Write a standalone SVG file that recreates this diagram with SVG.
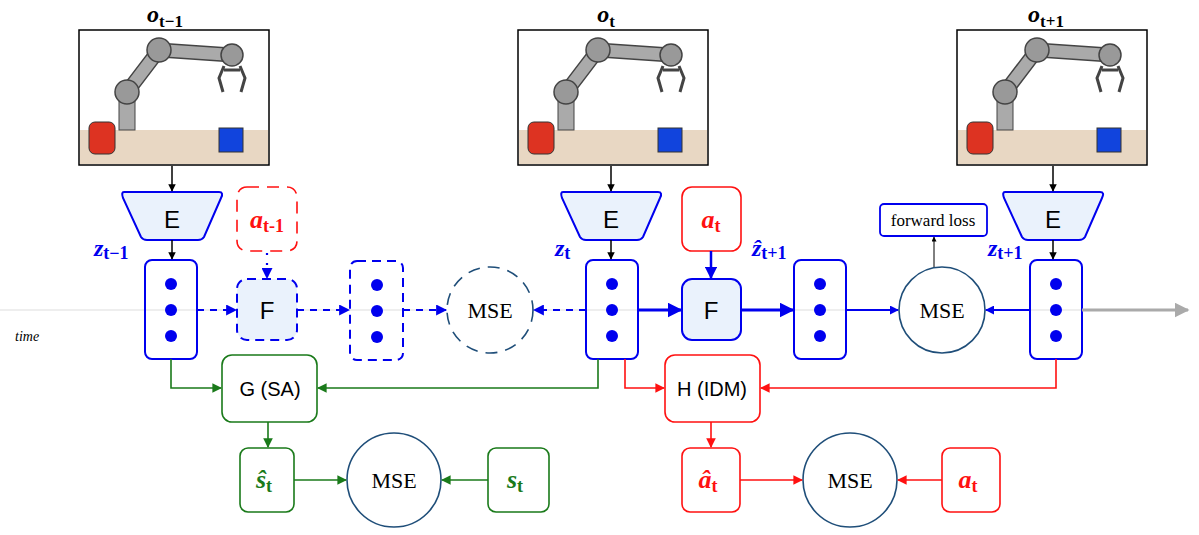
<svg xmlns="http://www.w3.org/2000/svg" width="1199" height="535" viewBox="0 0 1199 535">
<defs>
<style>
.bl{fill:none;stroke:#0000ee;stroke-width:2}
.dash{stroke-dasharray:9,6}
.enc{fill:#eaf2fc;stroke:#0000ee;stroke-width:2}
.dot{fill:#0000ee}
.red{fill:#fff;stroke:#ff1111;stroke-width:1.6}
.grn{fill:#fff;stroke:#1a7a1a;stroke-width:1.6}
.mse{fill:#fff;stroke:#1f4e79;stroke-width:1.6}
.sans{font-family:'Liberation Sans',Arial,sans-serif}
.ser{font-family:'Liberation Serif','Times New Roman',serif}
.lab{font-family:'Liberation Serif',serif;font-weight:bold;font-style:italic}
</style>
<marker id="ab" viewBox="0 0 10 10" refX="9" refY="5" markerWidth="5" markerHeight="5" orient="auto"><path d="M0,0L10,5L0,10z" fill="#0000ee"/></marker>
<marker id="ak" viewBox="0 0 10 10" refX="9" refY="5" markerWidth="5" markerHeight="5" orient="auto"><path d="M0,0L10,5L0,10z" fill="#000"/></marker>
<marker id="ar" viewBox="0 0 10 10" refX="9" refY="5" markerWidth="6" markerHeight="6" orient="auto"><path d="M0,0L10,5L0,10z" fill="#ff1111"/></marker>
<marker id="ag" viewBox="0 0 10 10" refX="9" refY="5" markerWidth="6" markerHeight="6" orient="auto"><path d="M0,0L10,5L0,10z" fill="#1a7a1a"/></marker>
<marker id="ay" viewBox="0 0 10 10" refX="9" refY="5" markerWidth="5" markerHeight="5" orient="auto"><path d="M0,0L10,5L0,10z" fill="#aaa"/></marker>
<g id="scene">
<rect x="0" y="0" width="190" height="135" fill="#fff" stroke="#000" stroke-width="1.5"/>
<rect x="1" y="100" width="188" height="34" fill="#e8d7c3"/>
<rect x="40" y="70" width="16" height="30" fill="#aaa" stroke="#444"/>
<path d="M48,62 L80,20 L153,25" fill="none" stroke="#444" stroke-width="15" stroke-linecap="round" stroke-linejoin="round"/>
<path d="M48,62 L80,20 L153,25" fill="none" stroke="#aaa" stroke-width="12" stroke-linecap="round" stroke-linejoin="round"/>
<circle cx="48" cy="62" r="12" fill="#999" stroke="#444" stroke-width="1.5"/>
<circle cx="80" cy="20" r="12" fill="#999" stroke="#444" stroke-width="1.5"/>
<circle cx="153" cy="25" r="11" fill="#999" stroke="#444" stroke-width="1.5"/>
<path d="M145,36 L140,48 L144,62 M161,36 L166,48 L162,62 M145,40 H161" fill="none" stroke="#444" stroke-width="3"/>
<rect x="10" y="92" width="26" height="32" rx="6" fill="#dd3322" stroke="#333"/>
<rect x="140" y="98" width="24" height="24" fill="#1144dd" stroke="#333"/>
</g>
</defs>
<line x1="0" y1="310" x2="1087" y2="310" stroke="#ddd" stroke-width="1"/>
<text x="15" y="341" class="ser" font-style="italic" font-size="14">time</text>

<g id="obs">
<use href="#scene" x="79" y="30"/><use href="#scene" x="518" y="30"/><use href="#scene" x="957" y="30"/>
<text x="165" y="22" class="lab" font-size="24" text-anchor="middle">o<tspan font-size="17" dy="5" font-style="normal">t−1</tspan></text>
<text x="606" y="22" class="lab" font-size="24" text-anchor="middle">o<tspan font-size="17" dy="5" font-style="normal">t</tspan></text>
<text x="1046" y="22" class="lab" font-size="24" text-anchor="middle">o<tspan font-size="17" dy="5" font-style="normal">t+1</tspan></text>
</g>

<g id="encoders">
<path d="M124,192 H219 Q224,192 221,198 L204,237 Q202,240 198,240 H147 Q143,240 141,237 L123,198 Q121,192 124,192z" class="enc"/>
<path d="M563,192 H658 Q663,192 660,198 L643,237 Q641,240 637,240 H586 Q582,240 580,237 L562,198 Q560,192 563,192z" class="enc"/>
<path d="M1005,192 H1100 Q1105,192 1102,198 L1085,237 Q1083,240 1079,240 H1028 Q1024,240 1022,237 L1004,198 Q1002,192 1005,192z" class="enc"/>
<text x="172" y="228" class="sans" font-size="24" text-anchor="middle">E</text>
<text x="611" y="228" class="sans" font-size="24" text-anchor="middle">E</text>
<text x="1053" y="228" class="sans" font-size="24" text-anchor="middle">E</text>
</g>

<g id="latents">
<rect x="145" y="260" width="52" height="99" rx="7" class="bl"/>
<rect x="586" y="260" width="52" height="99" rx="7" class="bl"/>
<rect x="794" y="260" width="52" height="99" rx="7" class="bl"/>
<rect x="1030" y="260" width="52" height="99" rx="7" class="bl"/>
<rect x="350" y="261" width="53" height="99" rx="7" class="bl dash"/>
<g class="dot">
<circle cx="171" cy="284" r="6"/><circle cx="171" cy="310" r="6"/><circle cx="171" cy="336" r="6"/>
<circle cx="612" cy="284" r="6"/><circle cx="612" cy="310" r="6"/><circle cx="612" cy="336" r="6"/>
<circle cx="820" cy="284" r="6"/><circle cx="820" cy="310" r="6"/><circle cx="820" cy="336" r="6"/>
<circle cx="1056" cy="284" r="6"/><circle cx="1056" cy="310" r="6"/><circle cx="1056" cy="336" r="6"/>
<circle cx="377" cy="285" r="6"/><circle cx="377" cy="311" r="6"/><circle cx="377" cy="337" r="6"/>
</g>
<g class="lab" fill="#0000ee" font-size="24">
<text x="94" y="256">z<tspan font-size="18" dy="3" font-style="normal">t−1</tspan></text>
<text x="555" y="256">z<tspan font-size="18" dy="3" font-style="normal">t</tspan></text>
<text x="752" y="256">ẑ<tspan font-size="18" dy="3" font-style="normal">t+1</tspan></text>
<text x="988" y="256">z<tspan font-size="18" dy="3" font-style="normal">t+1</tspan></text>
</g>
</g>

<g id="actions">
<rect x="237" y="187" width="60" height="64" rx="10" class="red" stroke-dasharray="12,8"/>
<text x="267" y="228" class="lab" fill="#ff1111" font-size="26" text-anchor="middle">a<tspan font-size="18" dy="4" font-style="normal">t-1</tspan></text>
<rect x="682" y="187" width="59" height="64" rx="10" class="red"/>
<text x="711" y="228" class="lab" fill="#ff1111" font-size="26" text-anchor="middle">a<tspan font-size="18" dy="4" font-style="normal">t</tspan></text>
</g>

<g id="forward">
<rect x="237" y="279" width="60" height="61" rx="10" class="enc dash"/>
<text x="267" y="319" class="sans" font-size="24" text-anchor="middle">F</text>
<rect x="682" y="279" width="59" height="61" rx="10" class="enc"/>
<text x="711" y="319" class="sans" font-size="24" text-anchor="middle">F</text>
</g>

<g id="mses">
<circle cx="490" cy="310" r="43" class="mse" stroke-dasharray="12,8"/>
<text x="490" y="318" class="ser" font-size="22" text-anchor="middle">MSE</text>
<ellipse cx="942" cy="310" rx="43" ry="43" class="mse"/>
<text x="942" y="318" class="ser" font-size="22" text-anchor="middle">MSE</text>
<rect x="880" y="204" width="107" height="32" rx="4" fill="#fff" stroke="#0000ee" stroke-width="1.8"/>
<text x="933" y="226" class="ser" font-size="17" text-anchor="middle">forward loss</text>
<circle cx="394" cy="480" r="47" class="mse"/>
<text x="394" y="488" class="ser" font-size="22" text-anchor="middle">MSE</text>
<circle cx="850" cy="480" r="47" class="mse"/>
<text x="850" y="488" class="ser" font-size="22" text-anchor="middle">MSE</text>
</g>

<g id="heads">
<rect x="222" y="355" width="95" height="67" rx="10" class="grn"/>
<text x="270" y="396" class="sans" font-size="20" text-anchor="middle">G (SA)</text>
<rect x="665" y="355" width="95" height="67" rx="10" class="red"/>
<text x="712" y="396" class="sans" font-size="20" text-anchor="middle">H (IDM)</text>
<rect x="240" y="448" width="54" height="64" rx="8" class="grn"/>
<text x="264" y="488" class="lab" fill="#1a7a1a" font-size="26" text-anchor="middle">ŝ<tspan font-size="18" dy="4" font-style="normal">t</tspan></text>
<rect x="488" y="448" width="61" height="64" rx="8" class="grn"/>
<text x="515" y="488" class="lab" fill="#1a7a1a" font-size="26" text-anchor="middle">s<tspan font-size="18" dy="4" font-style="normal">t</tspan></text>
<rect x="682" y="448" width="58" height="64" rx="8" class="red"/>
<text x="708" y="488" class="lab" fill="#ff1111" font-size="26" text-anchor="middle">â<tspan font-size="18" dy="4" font-style="normal">t</tspan></text>
<rect x="942" y="448" width="58" height="64" rx="8" class="red"/>
<text x="968" y="488" class="lab" fill="#ff1111" font-size="26" text-anchor="middle">a<tspan font-size="18" dy="4" font-style="normal">t</tspan></text>
</g>

<g id="connectors" fill="none">
<g stroke="#000" stroke-width="1.5" marker-end="url(#ak)">
<line x1="172" y1="166" x2="172" y2="191"/><line x1="611" y1="166" x2="611" y2="191"/><line x1="1053" y1="166" x2="1053" y2="191"/>
<line x1="172" y1="240" x2="172" y2="259"/><line x1="611" y1="240" x2="611" y2="259"/><line x1="1053" y1="240" x2="1053" y2="259"/>
<line x1="934" y1="267" x2="934" y2="237" stroke-width="1"/>
</g>
<g stroke="#0000ee" stroke-width="2.2" marker-end="url(#ab)">
<line x1="197" y1="310" x2="236" y2="310" stroke-dasharray="7,6"/>
<line x1="297" y1="310" x2="349" y2="310" stroke-dasharray="7,6"/>
<line x1="403" y1="310" x2="446" y2="310" stroke-dasharray="7,6"/>
<line x1="586" y1="310" x2="534" y2="310" stroke-dasharray="7,6"/>
<line x1="267" y1="253" x2="267" y2="278" stroke-dasharray="2,8"/>
<line x1="638" y1="310" x2="681" y2="310" stroke-width="3"/>
<line x1="741" y1="310" x2="793" y2="310" stroke-width="3"/>
<line x1="711" y1="251" x2="711" y2="278" stroke-width="2.5"/>
<line x1="846" y1="310" x2="898" y2="310" stroke-width="1.8"/>
<line x1="1030" y1="310" x2="986" y2="310" stroke-width="1.8"/>
</g>
<line x1="1082" y1="310" x2="1188" y2="310" stroke="#aaa" stroke-width="3" marker-end="url(#ay)"/>
<g stroke="#1a7a1a" stroke-width="1.6" marker-end="url(#ag)">
<polyline points="171,359 171,388 221,388"/>
<polyline points="598,359 598,388 318,388"/>
<line x1="268" y1="422" x2="268" y2="447"/>
<line x1="294" y1="480" x2="346" y2="480"/>
<line x1="488" y1="480" x2="442" y2="480"/>
</g>
<g stroke="#ff1111" stroke-width="1.6" marker-end="url(#ar)">
<polyline points="625,359 625,388 664,388"/>
<polyline points="1056,359 1056,388 761,388"/>
<line x1="711" y1="422" x2="711" y2="447"/>
<line x1="740" y1="480" x2="802" y2="480"/>
<line x1="942" y1="480" x2="898" y2="480"/>
</g>
</g>
</svg>
